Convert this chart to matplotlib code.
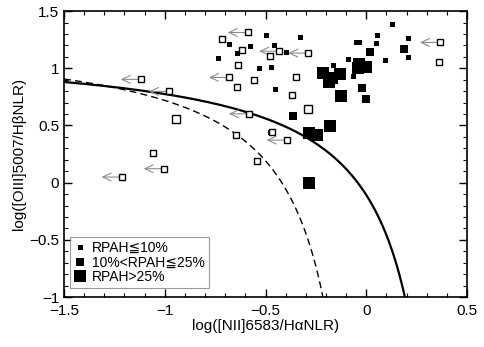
import numpy as np
import matplotlib
matplotlib.use('Agg')
import matplotlib.pyplot as plt
from matplotlib.lines import Line2D
from matplotlib.ticker import MultipleLocator, FuncFormatter

plt.rcParams['font.family'] = ['Liberation Sans', 'DejaVu Sans', 'Noto Sans CJK SC']

# filled squares, three RPAH classes
small_x = [-0.499, -0.330, -0.579, -0.456, -0.680, -0.641, -0.734, -0.400, -0.534, -0.474,
           -0.451, -0.479, -0.167, -0.092, 0.093, -0.064, 0.126, 0.052, 0.209, 0.047,
           0.206, -0.053, -0.038]
small_y = [1.293, 1.275, 1.191, 1.200, 1.212, 1.130, 1.092, 1.144, 1.004, 1.010,
           0.815, 0.445, 1.032, 1.080, 1.075, 0.930, 1.384, 1.295, 1.267, 1.217,
           1.100, 1.229, 1.233]
mid_x = [0.017, 0.189, -0.023, -0.003, -0.365]
mid_y = [1.140, 1.168, 0.824, 0.731, 0.585]
big_x = [-0.035, 0.000, -0.040, -0.213, -0.130, -0.183, -0.171, -0.124, -0.180, -0.283, -0.243, -0.283]
big_y = [1.040, 1.010, 1.000, 0.955, 0.949, 0.882, 0.917, 0.757, 0.495, 0.436, 0.416, 0.000]

# open squares (no detection of PAH)
open_x = [-0.717, -0.615, -0.479, -0.638, -0.557, -0.641, -0.350, -0.367, -0.646, -1.060,
          -0.542, 0.361, -0.468]
open_y = [1.255, 1.156, 1.109, 1.025, 0.897, 0.836, 0.923, 0.768, 0.416, 0.261,
          0.191, 1.057, 0.440]
# open squares with upper limits in x
lim_x = [-0.588, -0.432, -0.288, -0.681, -1.119, -0.979, -0.582, -0.395, -1.214, -1.005, 0.366]
lim_y = [1.313, 1.150, 1.133, 0.920, 0.903, 0.798, 0.602, 0.372, 0.049, 0.122, 1.226]
open_mid_x = [-0.943, -0.288]
open_mid_y = [0.553, 0.641]

# demarcation curves: y = a/(x - b) + c
kew = (0.61, 0.47, 1.19)
kau = (0.61, 0.05, 1.30)

fig = plt.figure(figsize=(4.85, 3.47), dpi=100)
ax = fig.add_axes([0.132, 0.144, 0.831, 0.824])

def curve(p, ls, lw):
    a, b, c = p
    xend = b + a / (-1 - c)
    xx = np.linspace(-1.5, xend, 300)
    ax.plot(xx, a / (xx - b) + c, color='black', ls=ls, lw=lw, zorder=2)

curve(kew, '-', 1.6)
curve(kau, (0, (5, 3)), 1.0)

for x, y in zip(lim_x, lim_y):
    ax.annotate('', xy=(x - 0.1, y), xytext=(x, y),
                arrowprops=dict(arrowstyle='->,head_length=0.6,head_width=0.28',
                                color='0.55', lw=0.8, shrinkA=0, shrinkB=0), zorder=3)

ax.plot(small_x, small_y, 's', color='black', ms=3.6, mew=0, zorder=4)
ax.plot(mid_x, mid_y, 's', color='black', ms=6.2, mew=0, zorder=4)
ax.plot(big_x, big_y, 's', color='black', ms=8.0, mew=0, zorder=4)
ax.plot(open_x + lim_x, open_y + lim_y, 's', mfc='white', mec='black', ms=3.7, mew=1.0, zorder=5)
ax.plot(open_mid_x, open_mid_y, 's', mfc='white', mec='black', ms=6.2, mew=1.0, zorder=5)

ax.set_xlim(-1.5, 0.5)
ax.set_ylim(-1, 1.5)
ax.xaxis.set_major_locator(MultipleLocator(0.5))
ax.xaxis.set_minor_locator(MultipleLocator(0.1))
ax.yaxis.set_major_locator(MultipleLocator(0.5))
ax.yaxis.set_minor_locator(MultipleLocator(0.1))
fmt = FuncFormatter(lambda v, pos: ('%g' % v).replace('-', '\u2212'))
ax.xaxis.set_major_formatter(fmt)
ax.yaxis.set_major_formatter(fmt)
ax.tick_params(which='both', direction='in', top=True, right=True, labelsize=11)
ax.tick_params(which='major', length=6, width=1)
ax.tick_params(which='minor', length=3, width=0.8)
ax.tick_params(axis='x', which='major', pad=5)
for s in ax.spines.values():
    s.set_linewidth(1.2)

ax.set_xlabel('log([NII]6583/H\u03b1NLR)', fontsize=11, labelpad=1)
ax.set_ylabel('log([OIII]5007/H\u03b2NLR)', fontsize=11, labelpad=2)

handles = [Line2D([], [], ls='none', marker='s', color='black', ms=3.6, mew=0),
           Line2D([], [], ls='none', marker='s', color='black', ms=6.2, mew=0),
           Line2D([], [], ls='none', marker='s', color='black', ms=8.0, mew=0)]
labels = ['RPAH\u226610%', '10%<RPAH\u226625%', 'RPAH>25%']
leg = ax.legend(handles, labels, loc='lower left', bbox_to_anchor=(0.015, 0.03),
                fontsize=10, frameon=True, fancybox=False, handlelength=0.8,
                handletextpad=0.5, borderpad=0.3, labelspacing=0.05, borderaxespad=0)
leg.get_frame().set_edgecolor('0.5')
leg.get_frame().set_linewidth(0.8)

fig.savefig('out.png', dpi=100)
